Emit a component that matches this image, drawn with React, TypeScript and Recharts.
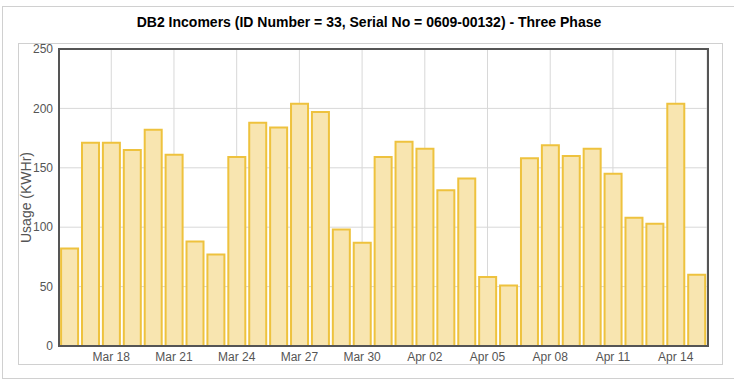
import React from 'react';
import { BarChart, Bar, XAxis, YAxis, CartesianGrid, Label } from 'recharts';

const dates = [
  'Mar 16', 'Mar 17', 'Mar 18', 'Mar 19', 'Mar 20', 'Mar 21', 'Mar 22', 'Mar 23',
  'Mar 24', 'Mar 25', 'Mar 26', 'Mar 27', 'Mar 28', 'Mar 29', 'Mar 30', 'Mar 31',
  'Apr 01', 'Apr 02', 'Apr 03', 'Apr 04', 'Apr 05', 'Apr 06', 'Apr 07', 'Apr 08',
  'Apr 09', 'Apr 10', 'Apr 11', 'Apr 12', 'Apr 13', 'Apr 14', 'Apr 15',
];

const usage = [
  82, 171, 171, 165, 182, 161, 88, 77,
  159, 188, 184, 204, 197, 98, 87, 159,
  172, 166, 131, 141, 58, 51, 158, 169,
  160, 166, 145, 108, 103, 204, 60,
];

const xTicks = ['Mar 18', 'Mar 21', 'Mar 24', 'Mar 27', 'Mar 30', 'Apr 02', 'Apr 05', 'Apr 08', 'Apr 11', 'Apr 14'];
const yTicks = [0, 50, 100, 150, 200, 250];

const FONT = 'Arial, "Liberation Sans", sans-serif';

const App: React.FC = () => {
  const data = dates.map((d, i) => ({ date: d, usage: usage[i] }));

  return (
    <div style={{ position: 'absolute', left: 0, top: 0, width: 734, height: 381, background: '#fff', fontFamily: FONT, overflow: 'hidden' }}>
      {/* outer frame */}
      <div style={{ position: 'absolute', left: 2, top: 6, width: 740, height: 371, border: '1px solid #d0d0d0' }} />
      {/* inner frame */}
      <div style={{ position: 'absolute', left: 18, top: 43, width: 703, height: 320, border: '1px solid #d0d0d0' }} />
      <div style={{ position: 'absolute', left: 0, top: 14, width: 738, textAlign: 'center', fontSize: 14, fontWeight: 'bold', color: '#000' }}>
        DB2 Incomers (ID Number = 33, Serial No = 0609-00132) - Three Phase
      </div>
      <div style={{ position: 'absolute', left: 0, top: 0 }}>
        <BarChart width={734} height={381} data={data} margin={{ top: 49, right: 27, bottom: 5, left: 0 }} barCategoryGap="10%">
          <CartesianGrid stroke="#d8d8d8" />
          <XAxis
            dataKey="date"
            ticks={xTicks}
            interval={0}
            height={30}
            tickLine={false}
            axisLine={false}
            tickMargin={0}
            tick={{ fill: '#555', fontSize: 12, fontFamily: FONT }}
          />
          <YAxis
            width={59}
            domain={[0, 250]}
            ticks={yTicks}
            tickLine={false}
            axisLine={false}
            tickMargin={0}
            tick={{ fill: '#555', fontSize: 12, fontFamily: FONT }}
          >
            <Label value="Usage (KWHr)" angle={-90} position="insideLeft" offset={26} style={{ fill: '#555', fontSize: 14, fontFamily: FONT, textAnchor: 'middle' }} />
          </YAxis>
          <Bar dataKey="usage" fill="#f8e5b0" stroke="#eec23e" strokeWidth={2} isAnimationActive={false} />
        </BarChart>
      </div>
      {/* plot frame */}
      <div style={{ position: 'absolute', left: 58, top: 48, width: 647, height: 295, border: '2px solid #555', pointerEvents: 'none' }} />
    </div>
  );
};

export default App;
